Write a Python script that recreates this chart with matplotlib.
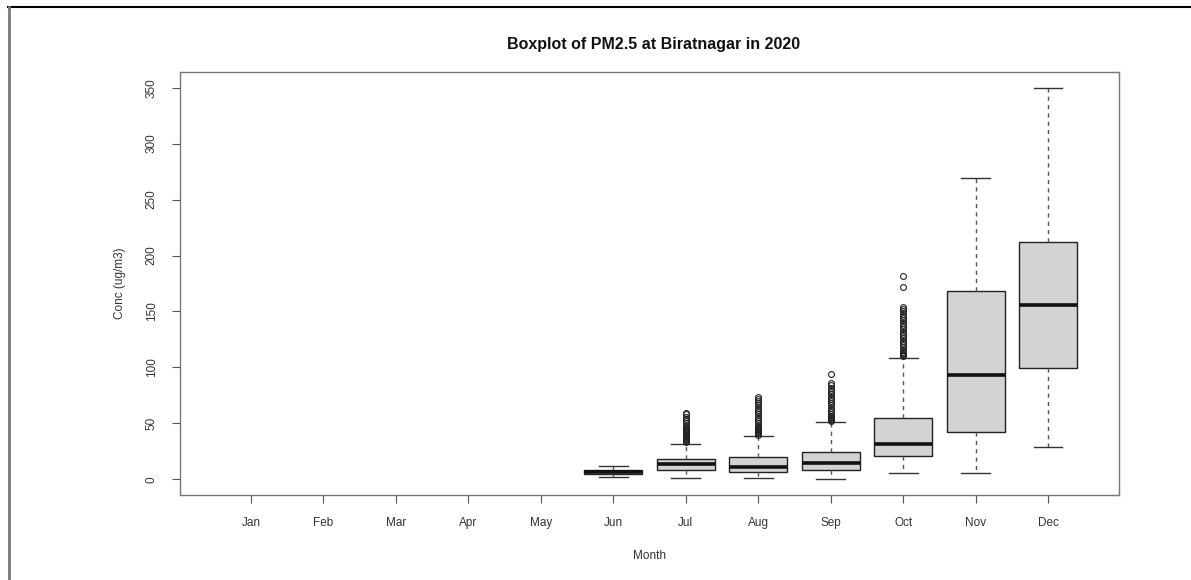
import matplotlib
matplotlib.use("Agg")
import matplotlib.pyplot as plt
from matplotlib.lines import Line2D

plt.rcParams['font.family'] = ['Liberation Sans', 'DejaVu Sans']

months = ["Jan", "Feb", "Mar", "Apr", "May", "Jun", "Jul", "Aug", "Sep", "Oct", "Nov", "Dec"]
# months with data (1-based positions)
data_months = ["Jun", "Jul", "Aug", "Sep", "Oct", "Nov", "Dec"]
whislo = [2, 1.5, 1.5, 0, 5.3, 5.3, 28.8]
q1 = [5, 8.3, 6.8, 8.3, 21, 42.4, 99.5]
med = [6.5, 13.4, 11, 15, 31.5, 93.5, 155.8]
q3 = [8, 17.8, 19.6, 24.6, 55.2, 168, 212.5]
whishi = [12, 31.8, 39, 50.8, 108.6, 269.5, 349.7]
outliers_jun = []
outliers_jul = [33, 34, 35, 36, 37, 38, 39, 40, 41, 42, 43, 44, 45, 46, 48, 50, 52, 54, 56, 58, 59]
outliers_aug = [40, 41, 42, 43, 44, 45, 46, 47, 48, 50, 52, 54, 56, 58, 60, 62, 64, 66, 68, 70, 72, 74]
outliers_sep = [52, 53, 54, 55, 56, 57, 58, 60, 62, 64, 66, 68, 70, 72, 74, 76, 78, 80, 82, 84, 86, 94]
outliers_oct = [110, 111, 112, 113, 114, 116, 118, 120, 122, 124, 126, 128, 130, 132, 134, 136,
                138, 140, 142, 144, 146, 148, 150, 152, 154, 172, 182]
outliers_nov = []
outliers_dec = []
fliers = [outliers_jun, outliers_jul, outliers_aug, outliers_sep, outliers_oct, outliers_nov, outliers_dec]
yticks = [0, 50, 100, 150, 200, 250, 300, 350]

title = "Boxplot of PM2.5 at Biratnagar in 2020"
xlabel = "Month"
ylabel = "Conc (ug/m3)"

stats = []
for i, m in enumerate(data_months):
    stats.append(dict(label=m, whislo=whislo[i], q1=q1[i], med=med[i], q3=q3[i],
                      whishi=whishi[i], fliers=fliers[i]))
positions = [months.index(m) + 1 for m in data_months]

fig = plt.figure(figsize=(11.91, 5.80), dpi=100)
ax = fig.add_axes([180/1191, 1 - 495/580, (1119-180)/1191, (495-72)/580])

txtc = "#333333"
ax.bxp(stats, positions=positions, widths=0.8, capwidths=0.4, patch_artist=True,
       boxprops=dict(facecolor="#D3D3D3", edgecolor="#222222", linewidth=1.0),
       medianprops=dict(color="#111111", linewidth=2.6, solid_capstyle="butt"),
       whiskerprops=dict(color="#555555", linewidth=1.0, linestyle=(0, (3, 3))),
       capprops=dict(color="#333333", linewidth=1.0),
       flierprops=dict(marker="o", markerfacecolor="none", markeredgecolor="#222222",
                       markersize=4.2, markeredgewidth=0.8, linestyle="none"),
       manage_ticks=False)

ax.set_xlim(0.02, 12.98)
ax.set_ylim(-14, 364)
ax.set_xticks(range(1, 13))
ax.set_xticklabels(months)
ax.set_yticks(yticks)
ax.set_yticklabels([str(v) for v in yticks], rotation=90, va="center")
ax.tick_params(axis="both", colors="#555555", labelcolor=txtc, labelsize=8.5, length=6, width=0.8)
ax.tick_params(axis="x", pad=10)
ax.tick_params(axis="y", pad=10)
for s in ax.spines.values():
    s.set_color("#777777")
    s.set_linewidth(1.0)

ax.set_xlabel(xlabel, fontsize=8.5, color=txtc, labelpad=15)
ax.set_ylabel(ylabel, fontsize=8.5, color=txtc, labelpad=14)
fig.text(0.5485, 1 - 44/580, title, ha="center", va="center", fontsize=11.5,
         fontweight="bold", color="#111111")

# outer frame lines (top and left) as in reference image
fig.add_artist(Line2D([8/1191, 1], [1 - 7/580, 1 - 7/580], transform=fig.transFigure,
                      color="black", linewidth=1.5))
fig.add_artist(Line2D([9/1191, 9/1191], [0, 1 - 7/580], transform=fig.transFigure,
                      color="#777777", linewidth=2.0))

fig.savefig("out.png", dpi=100)
